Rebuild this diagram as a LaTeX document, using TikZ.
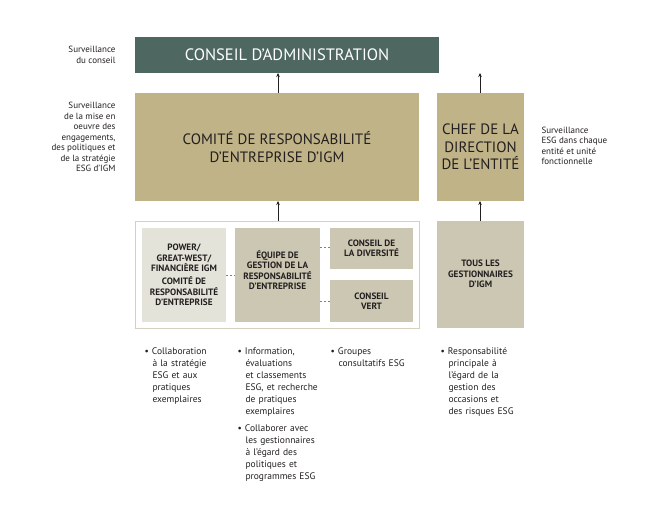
\documentclass[tikz,border=0pt]{standalone}
\usepackage{fontspec}
\setmainfont{PT Sans}
\usetikzlibrary{arrows.meta}
\definecolor{dkg}{HTML}{4E6760}
\definecolor{olv}{HTML}{BFB387}
\definecolor{lgr}{HTML}{E4E3DA}
\definecolor{mgr}{HTML}{CBC7B2}
\definecolor{brd}{HTML}{D5D1BE}
\definecolor{txt}{HTML}{231F20}
\begin{document}
\begin{tikzpicture}[x=1pt,y=-1pt,
  boxa/.style={draw=none,inner sep=0pt,align=center,text=txt},
  arr/.style={-{Stealth[length=4pt,width=3.5pt]},draw=txt,line width=0.5pt},
  dsh/.style={draw=gray,dashed,line width=0.5pt,dash pattern=on 2pt off 2pt},
  small/.style={font=\fontsize{9}{10.5}\selectfont,text=txt},
  bsmall/.style={font=\fontsize{9.5}{12}\selectfont,text=txt},
  bul/.style={bsmall,anchor=north west,align=left,text width=#1}]
\useasboundingbox (0,0) rectangle (660,520);
\fill[dkg] (135,37) rectangle (439,73);
\node[text=white,font=\fontsize{16.5}{18}\selectfont] (ca) at (287,55) {CONSEIL D’ADMINISTRATION};
\coordinate (caA) at (278,73); \coordinate (caB) at (480,73);
\fill[olv] (135,93) rectangle (419,201);
\node[boxa,font=\fontsize{15}{17.5}\selectfont] (crc) at (277,147) {COMITÉ DE RESPONSABILITÉ\\D’ENTREPRISE D’IGM};
\fill[olv] (437,93) rectangle (524,201);
\node[boxa,font=\fontsize{15}{17.5}\selectfont] (chef) at (480.5,147) {CHEF DE LA\\DIRECTION\\DE L’ENTITÉ};
\draw[brd,fill=white,line width=0.8pt] (135,221) rectangle (419,328);
\fill[lgr] (142,228) rectangle (226,322);
\fill[mgr] (235,228) rectangle (320,322);
\fill[mgr] (330,228) rectangle (413,269);
\fill[mgr] (330,280) rectangle (413,322);
\fill[mgr] (437,221) rectangle (524,328);
\begin{scope}[every node/.style={boxa,font=\fontsize{9.2}{10.4}\selectfont\bfseries}]
\node (pw) at (184,275) {POWER/\\GREAT-WEST/\\FINANCIÈRE IGM\\[3pt]COMITÉ DE\\RESPONSABILITÉ\\D’ENTREPRISE};
\node (eq) at (277.5,270) {ÉQUIPE DE\\GESTION DE LA\\RESPONSABILITÉ\\D’ENTREPRISE};
\node (div) at (371.5,248) {CONSEIL DE\\LA DIVERSITÉ};
\node (vert) at (371.5,301) {CONSEIL\\VERT};
\node (tous) at (480.5,274) {TOUS LES\\GESTIONNAIRES\\D’IGM};
\end{scope}
\draw[arr] (278,93) -- (caA);
\draw[arr] (480,93) -- (caB);
\draw[arr] (278,221) -- (278,201);
\draw[arr] (480,221) -- (480,201);
\draw[dsh] (226,275) -- (235,275);
\draw[dsh] (320,247) -- (330,247);
\draw[dsh] (320,301) -- (330,301);
\node[small,align=right,anchor=east] (l1) at (119,55) {Surveillance\\du conseil};
\node[small,align=right,anchor=east] (l2) at (119,137) {Surveillance\\de la mise en\\oeuvre des\\engagements,\\des politiques et\\de la stratégie\\ESG d’IGM};
\node[small,align=left,anchor=west] (l3) at (538,146) {Surveillance\\ESG dans chaque\\entité et unité\\fonctionnelle};
\node[bul=90pt] (b1) at (141,344) {\textbullet\ Collaboration\\\hspace*{8pt}à la stratégie\\\hspace*{8pt}ESG et aux\\\hspace*{8pt}pratiques\\\hspace*{8pt}exemplaires};
\node[bul=100pt] (b2) at (234,344) {\textbullet\ Information,\\\hspace*{8pt}évaluations\\\hspace*{8pt}et classements\\\hspace*{8pt}ESG, et recherche\\\hspace*{8pt}de pratiques\\\hspace*{8pt}exemplaires\\[5pt]\textbullet\ Collaborer avec\\\hspace*{8pt}les gestionnaires\\\hspace*{8pt}à l’égard des\\\hspace*{8pt}politiques et\\\hspace*{8pt}programmes ESG};
\node[bul=100pt] (b3) at (327,344) {\textbullet\ Groupes\\\hspace*{8pt}consultatifs ESG};
\node[bul=100pt] (b4) at (437,344) {\textbullet\ Responsabilité\\\hspace*{8pt}principale à\\\hspace*{8pt}l’égard de la\\\hspace*{8pt}gestion des\\\hspace*{8pt}occasions et\\\hspace*{8pt}des risques ESG};
\end{tikzpicture}
\end{document}
